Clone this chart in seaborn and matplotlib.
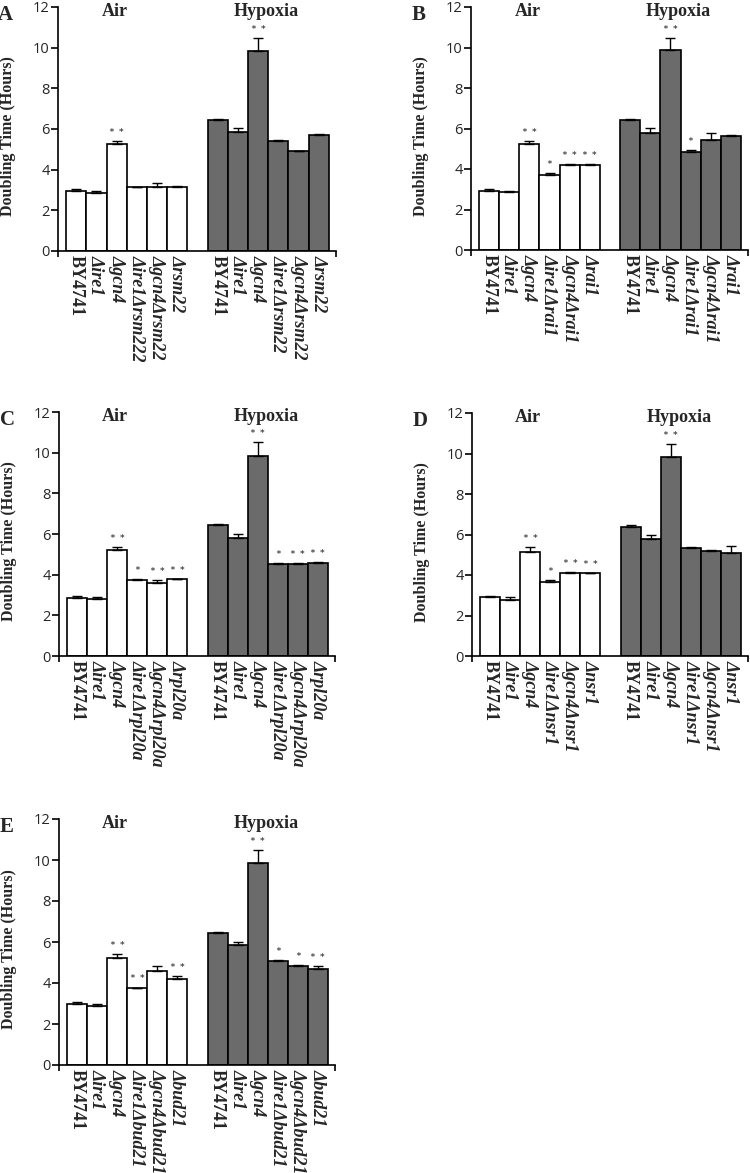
import matplotlib
matplotlib.use("Agg")
import numpy as np
import pandas as pd
import matplotlib.pyplot as plt
import seaborn as sns

# ---- data ----
conditions = ["Air", "Hypoxia"]
panel_letters = ["A", "B", "C", "D", "E"]

strains_a_air = ["BY4741", "Δire1", "Δgcn4", "Δire1Δrsm222", "Δgcn4Δrsm22", "Δrsm22"]
strains_a_hyp = ["BY4741", "Δire1", "Δgcn4", "Δire1Δrsm22", "Δgcn4Δrsm22", "Δrsm22"]
strains_b = ["BY4741", "Δire1", "Δgcn4", "Δire1Δrai1", "Δgcn4Δrai1", "Δrai1"]
strains_c = ["BY4741", "Δire1", "Δgcn4", "Δire1Δrpl20a", "Δgcn4Δrpl20a", "Δrpl20a"]
strains_d = ["BY4741", "Δire1", "Δgcn4", "Δire1Δnsr1", "Δgcn4Δnsr1", "Δnsr1"]
strains_e = ["BY4741", "Δire1", "Δgcn4", "Δire1Δbud21", "Δgcn4Δbud21", "Δbud21"]

a_air = [2.95, 2.87, 5.24, 3.16, 3.16, 3.17]
a_air_err = [0.12, 0.09, 0.16, 0.0, 0.18, 0.03]
a_hyp = [6.43, 5.83, 9.83, 5.41, 4.90, 5.69]
a_hyp_err = [0.08, 0.22, 0.64, 0.07, 0.02, 0.07]
a_air_sig = ["", "", "**", "", "", ""]
a_hyp_sig = ["", "", "**", "", "", ""]

b_air = [2.91, 2.84, 5.23, 3.70, 4.20, 4.20]
b_air_err = [0.09, 0.08, 0.15, 0.08, 0.04, 0.06]
b_hyp = [6.41, 5.80, 9.86, 4.82, 5.42, 5.62]
b_hyp_err = [0.08, 0.23, 0.62, 0.12, 0.38, 0.08]
b_air_sig = ["", "", "**", "*", "**", "**"]
b_hyp_sig = ["", "", "**", "*", "", ""]

c_air = [2.87, 2.82, 5.21, 3.72, 3.57, 3.77]
c_air_err = [0.08, 0.08, 0.16, 0.06, 0.16, 0.02]
c_hyp = [6.43, 5.82, 9.84, 4.52, 4.52, 4.59]
c_hyp_err = [0.05, 0.20, 0.67, 0.03, 0.07, 0.03]
c_air_sig = ["", "", "**", "*", "**", "**"]
c_hyp_sig = ["", "", "**", "*", "**", "**"]

d_air = [2.89, 2.79, 5.16, 3.67, 4.10, 4.10]
d_air_err = [0.08, 0.13, 0.20, 0.10, 0.05, 0.02]
d_hyp = [6.39, 5.79, 9.84, 5.33, 5.18, 5.11]
d_hyp_err = [0.08, 0.21, 0.62, 0.03, 0.03, 0.34]
d_air_sig = ["", "", "**", "*", "**", "**"]
d_hyp_sig = ["", "", "**", "", "", ""]

e_air = [2.96, 2.86, 5.22, 3.78, 4.58, 4.20]
e_air_err = [0.10, 0.10, 0.20, 0.0, 0.24, 0.12]
e_hyp = [6.44, 5.86, 9.84, 5.08, 4.84, 4.68]
e_hyp_err = [0.05, 0.15, 0.65, 0.02, 0.03, 0.13]
e_air_sig = ["", "", "**", "**", "", "**"]
e_hyp_sig = ["", "", "**", "*", "*", "**"]

y_ticks = [0, 2, 4, 6, 8, 10, 12]
colors = {"Air": "white", "Hypoxia": "#6b6b6b"}

panels = [
    (strains_a_air, strains_a_hyp, a_air, a_air_err, a_hyp, a_hyp_err, a_air_sig, a_hyp_sig),
    (strains_b, strains_b, b_air, b_air_err, b_hyp, b_hyp_err, b_air_sig, b_hyp_sig),
    (strains_c, strains_c, c_air, c_air_err, c_hyp, c_hyp_err, c_air_sig, c_hyp_sig),
    (strains_d, strains_d, d_air, d_air_err, d_hyp, d_hyp_err, d_air_sig, d_hyp_sig),
    (strains_e, strains_e, e_air, e_air_err, e_hyp, e_hyp_err, e_air_sig, e_hyp_sig),
]

# axes boxes in pixels: left, top (y=12), right, bottom (y=0)
boxes = [(58, 7, 336, 251), (471, 7, 748, 250), (59, 412, 335, 656),
         (472, 413, 748, 656), (59, 819, 335, 1065)]

sns.set_theme(style="ticks")
plt.rcParams["font.family"] = ["Liberation Serif", "DejaVu Sans"]

W, H = 750, 1173
fig = plt.figure(figsize=(W / 100, H / 100), dpi=100)

serif = "Liberation Serif"

for letter, panel, box in zip(panel_letters, panels, boxes):
    s_air, s_hyp, v_air, e_air_, v_hyp, e_hyp_, sig_air, sig_hyp = panel
    l, t, r, b = box
    ax = fig.add_axes([l / W, 1 - b / H, (r - l) / W, (b - t) / H])

    keys_air = [f"Air:{i}" for i in range(len(s_air))]
    keys_hyp = [f"Hypoxia:{i}" for i in range(len(s_hyp))]
    order = keys_air + ["gap"] + keys_hyp
    df = pd.DataFrame({
        "key": keys_air + keys_hyp,
        "condition": ["Air"] * len(keys_air) + ["Hypoxia"] * len(keys_hyp),
        "value": v_air + v_hyp,
    })
    sns.barplot(data=df, x="key", y="value", hue="condition", order=order,
                palette=colors, dodge=False, width=1.0, saturation=1,
                edgecolor="black", linewidth=1.2, errorbar=None,
                legend=False, ax=ax)

    pos = {t_.get_text(): p for p, t_ in zip(ax.get_xticks(), ax.get_xticklabels())}

    for keys, vals, errs, sigs in [(keys_air, v_air, e_air_, sig_air),
                                   (keys_hyp, v_hyp, e_hyp_, sig_hyp)]:
        xs = [pos[k] for k in keys]
        ax.errorbar(xs, vals, yerr=[np.zeros(len(vals)), errs], fmt="none",
                    ecolor="black", elinewidth=1.0, capsize=3.5, capthick=1.0,
                    zorder=3)
        for x, v, e, s in zip(xs, vals, errs, sigs):
            if s:
                ax.text(x, v + e + 0.05, " ".join(s), ha="center", va="bottom",
                        fontsize=10, family="Lato", color="#333333")

    # x tick labels
    xt = [pos[k] for k in keys_air + keys_hyp]
    ax.set_xticks(xt)
    ax.set_xticklabels(s_air + s_hyp, rotation=-90, va="top", ha="center",
                       fontsize=13, family=serif, fontweight="bold")
    for lab in ax.get_xticklabels():
        if lab.get_text().startswith("Δ"):
            lab.set_fontstyle("italic")
    ax.tick_params(axis="x", which="major", length=0, pad=3)
    ax.set_xlim(-0.9, 12.85)
    ax.set_xticks([-0.9, 12.85], minor=True)
    ax.tick_params(axis="x", which="minor", length=4, width=1.2,
                   direction="out", color="black")

    ax.set_ylim(0, 12)
    ax.set_yticks(y_ticks)
    ax.set_yticklabels([str(v) for v in y_ticks], family="Open Sans", fontsize=10.5)
    ax.tick_params(axis="y", length=5, width=1.2, pad=1, color="black")

    for sp in ["left", "bottom"]:
        ax.spines[sp].set_linewidth(1.2)
        ax.spines[sp].set_color("black")
    sns.despine(ax=ax)

    ax.set_xlabel("")
    ax.set_ylabel("Doubling Time (Hours)", family=serif, fontweight="bold",
                  fontsize=11.5)
    ax.yaxis.label.set_verticalalignment("center")
    ax.yaxis.set_label_coords(-0.18, 0.47)

    ax.text(1.9, 11.8, "Air", ha="center", va="center", family=serif,
            fontweight="bold", fontsize=13)
    ax.text(9.4, 11.8, "Hypoxia", ha="center", va="center", family=serif,
            fontweight="bold", fontsize=13)
    ax.text(-0.215, 1.01, letter, transform=ax.transAxes, ha="left", va="top",
            family=serif, fontweight="bold", fontsize=15)

fig.savefig("out.png", dpi=100, facecolor="white")
